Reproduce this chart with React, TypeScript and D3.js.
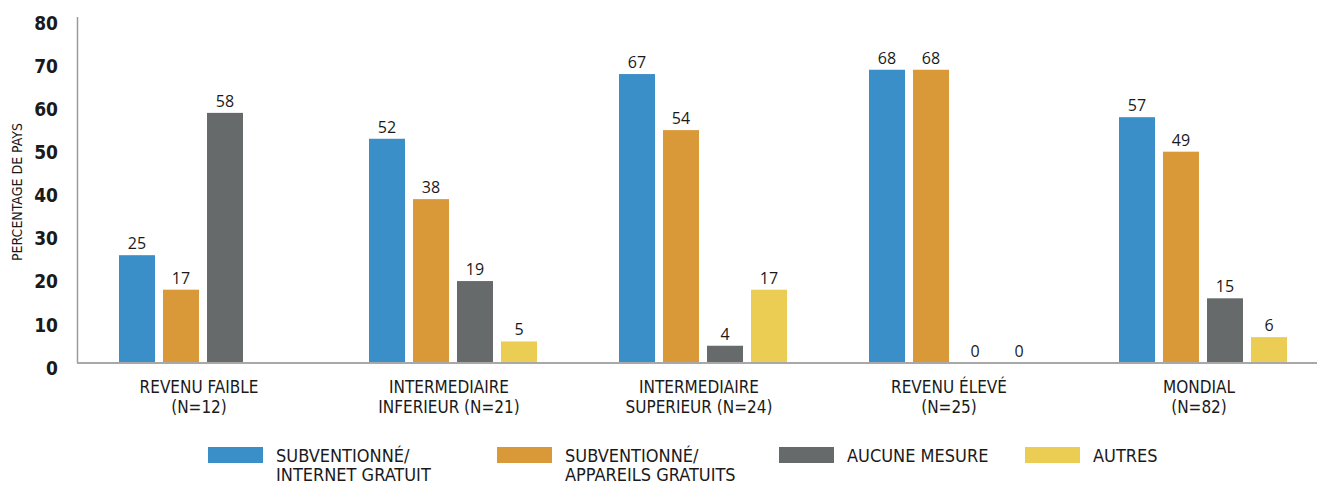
import React, { useEffect, useRef } from 'react';
import * as d3 from 'd3';

const categories = ['REVENU FAIBLE|(N=12)', 'INTERMEDIAIRE|INFERIEUR (N=21)', 'INTERMEDIAIRE|SUPERIEUR (N=24)', 'REVENU ÉLEVÉ|(N=25)', 'MONDIAL|(N=82)'];
const seriesNames = ['SUBVENTIONNÉ/|INTERNET GRATUIT', 'SUBVENTIONNÉ/|APPAREILS GRATUITS', 'AUCUNE MESURE', 'AUTRES'];
const internetGratuit = [25, 52, 67, 68, 57];
const appareilsGratuits = [17, 38, 54, 68, 49];
const aucuneMesure = [58, 19, 4, 0, 15];
const autres: (number | null)[] = [null, 5, 17, 0, 6];
const yTicks = [0, 10, 20, 30, 40, 50, 60, 70, 80];
const colors = ['#3a8fc8', '#da9938', '#666a6b', '#eacd52'];

const W = 1317, H = 484;
const condensed = '"DejaVu Sans Condensed", "Liberation Sans Narrow", sans-serif';

export default function App() {
  const ref = useRef<SVGSVGElement>(null);

  useEffect(() => {
    const svg = d3.select(ref.current);
    svg.selectAll('*').remove();

    const series = [internetGratuit, appareilsGratuits, aucuneMesure, autres];

    const y = d3.scaleLinear().domain([0, 80]).range([363, 18]);
    const x0 = d3.scaleBand().domain(categories).range([77, 1320])
      .paddingInner(0.328).paddingOuter(0.15).align(0.56);
    const x1 = d3.scaleBand().domain(d3.range(4).map(String)).range([0, x0.bandwidth()])
      .paddingInner(0.182);

    // y axis line
    svg.append('line').attr('x1', 77.5).attr('x2', 77.5).attr('y1', 17).attr('y2', 363)
      .attr('stroke', '#9a9a9a').attr('stroke-width', 1.5);

    // y tick labels
    svg.append('g').selectAll('text').data(yTicks).join('text')
      .attr('x', 58).attr('y', d => y(d) + 5).attr('dy', '0.35em')
      .attr('text-anchor', 'end')
      .style('font-family', condensed).style('font-weight', 'bold').style('font-size', '19px')
      .attr('fill', '#1a1a1a').text(d => d);

    // y title
    svg.append('text')
      .attr('transform', `translate(22,192) rotate(-90)`)
      .attr('text-anchor', 'middle')
      .style('font-family', condensed).style('font-size', '14px')
      .attr('fill', '#1a1a1a').text('PERCENTAGE DE PAYS');

    // bars
    const groups = svg.append('g').selectAll('g').data(categories).join('g')
      .attr('transform', d => `translate(${x0(d)},0)`);

    groups.each(function (cat, ci) {
      const g = d3.select(this);
      series.forEach((vals, si) => {
        const v = vals[ci];
        if (v === null || v === undefined) return;
        const bx = x1(String(si))!;
        if (v > 0) {
          g.append('rect').attr('x', bx).attr('width', x1.bandwidth())
            .attr('y', y(v)).attr('height', y(0) - y(v)).attr('fill', colors[si]);
        }
        g.append('text').attr('x', bx + x1.bandwidth() / 2).attr('y', y(v) - 6)
          .attr('text-anchor', 'middle')
          .style('font-family', '"Open Sans", "Noto Sans", sans-serif').style('font-size', '16px')
          .attr('fill', '#1a1a1a').text(v);
      });
    });

    // baseline
    svg.append('line').attr('x1', 77).attr('x2', W).attr('y1', 363).attr('y2', 363)
      .attr('stroke', '#a8a8a8').attr('stroke-width', 2);

    // category labels
    groups.each(function (cat) {
      const g = d3.select(this);
      const lines = cat.split('|');
      const t = g.append('text').attr('text-anchor', 'middle')
        .style('font-family', condensed).style('font-size', '17px').attr('fill', '#1a1a1a');
      lines.forEach((l, i) => {
        t.append('tspan').attr('x', x0.bandwidth() / 2 - 4).attr('y', 393 + i * 20).text(l);
      });
    });

    // legend
    const legendX = [208, 497, 779, 1025];
    const leg = svg.append('g').selectAll('g').data(seriesNames).join('g')
      .attr('transform', (d, i) => `translate(${legendX[i]},447)`);
    leg.append('rect').attr('width', 55).attr('height', 16).attr('fill', (d, i) => colors[i]);
    leg.each(function (name) {
      const t = d3.select(this).append('text')
        .style('font-family', condensed).style('font-size', '18px').attr('fill', '#1a1a1a');
      name.split('|').forEach((l, i) => {
        t.append('tspan').attr('x', 68).attr('y', 15 + i * 19).text(l);
      });
    });
  }, []);

  return (
    <svg ref={ref} width={W} height={H}
      style={{ position: 'absolute', left: 0, top: 0, background: '#fff' }} />
  );
}
